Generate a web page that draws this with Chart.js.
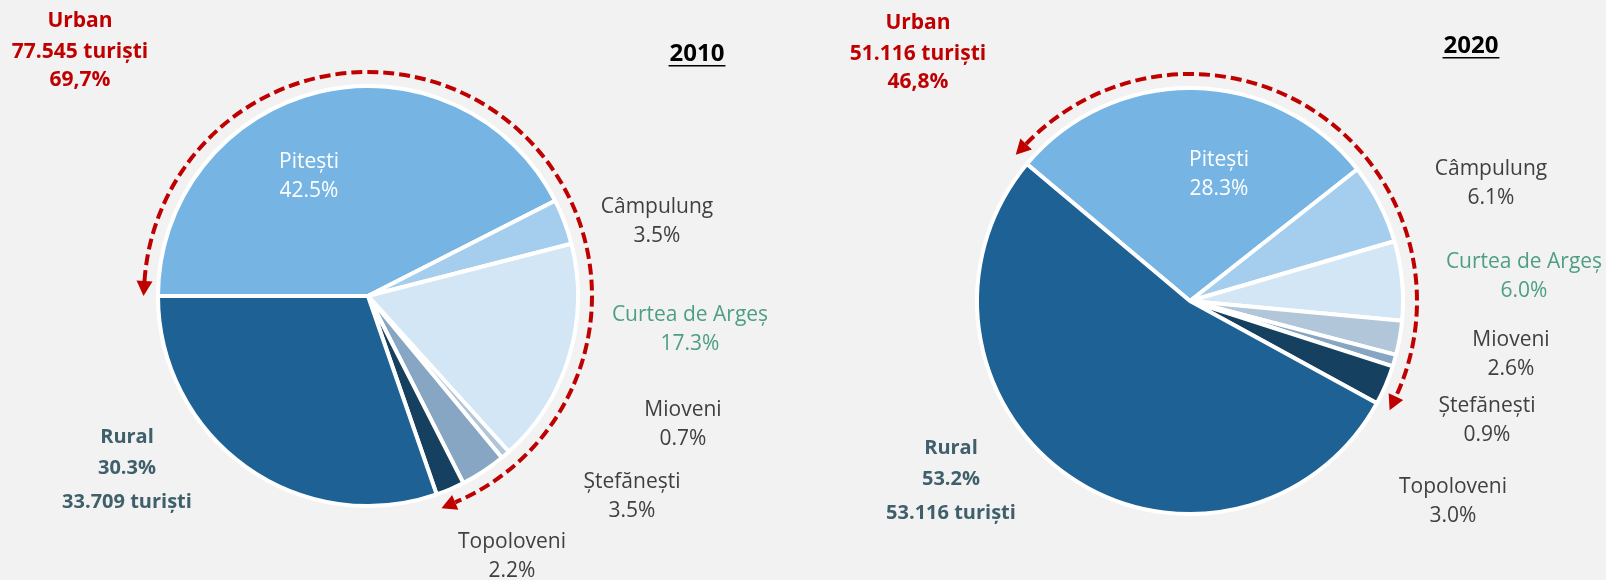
<!DOCTYPE html>
<html>
<head>
<meta charset="utf-8">
<script src="https://cdn.jsdelivr.net/npm/chart.js@4.4.0/dist/chart.umd.min.js"></script>
<style>
  body { margin: 0; background: #f2f2f2; }
  .pane { position: absolute; top: 0; width: 803px; height: 580px; }
</style>
</head>
<body>
<div class="pane" style="left:0"><canvas id="pie2010"></canvas></div>
<div class="pane" style="left:803px"><canvas id="pie2020"></canvas></div>
<script>
// tourist shares by locality, Argeș county
const categories = ['Pitești', 'Câmpulung', 'Curtea de Argeș', 'Mioveni', 'Ștefănești', 'Topoloveni', 'Rural'];
const share2010 = [42.5, 3.5, 17.3, 0.7, 3.5, 2.2, 30.3];
const share2020 = [28.3, 6.1, 6.0, 2.6, 0.9, 3.0, 53.2];
const years = ['2010', '2020'];
const urbanTourists = ['77.545', '51.116'];
const urbanShare = ['69,7%', '46,8%'];
const ruralTourists = ['33.709', '53.116'];

const sliceColors = ['#75b4e3', '#a4cdee', '#d2e6f5', '#b1c6d8', '#87a6c3', '#16405f', '#1e6194'];
const labelColors = ['#ffffff', '#404040', '#4e9f82', '#404040', '#404040', '#404040', '#3f5f6b'];
const RED = '#c00000';
const FONT = '"Open Sans", sans-serif';

// label anchors, offset from the pie centre
const labelOffsets2010 = [[-59, -134], [289, -89], [322, 19], [315, 114], [264, 186], [144, 246], [-241, 141]];
const labelOffsets2020 = [[29, -141], [301, -132], [334, -39], [321, 39], [297, 105], [263, 186], [-239, 147]];

const pieNotes = {
  id: 'pieNotes',
  afterDatasetsDraw(chart, args, o) {
    const ctx = chart.ctx;
    const arcs = chart.getDatasetMeta(0).data;
    const cx = arcs[0].x, cy = arcs[0].y;
    const values = chart.data.datasets[0].data;
    ctx.save();
    ctx.textAlign = 'center';
    ctx.textBaseline = 'middle';

    // slice labels
    categories.forEach((name, i) => {
      const [dx, dy] = o.offsets[i];
      const x = cx + dx, y = cy + dy;
      ctx.fillStyle = labelColors[i];
      if (name === 'Rural') {
        ctx.font = 'bold 20px ' + FONT;
        ctx.fillText(name, x, y);
        ctx.fillText(values[i].toFixed(1) + '%', x, y + 31);
        ctx.fillText(o.rural + ' turiști', x, y + 65);
      } else {
        ctx.font = '21px ' + FONT;
        ctx.fillText(name, x, y);
        ctx.fillText(values[i].toFixed(1) + '%', x, y + 29);
      }
    });

    // urban summary
    ctx.fillStyle = RED;
    ctx.font = 'bold 21px ' + FONT;
    const ux = cx + o.urbanAt[0], uy = cy + o.urbanAt[1];
    ctx.fillText('Urban', ux, uy);
    ctx.fillText(o.urban + ' turiști', ux, uy + 31);
    ctx.fillText(o.urbanPct, ux, uy + 59);

    // year heading, underlined
    ctx.fillStyle = '#000000';
    ctx.font = 'bold 24px ' + FONT;
    const tx = cx + o.titleAt[0], ty = cy + o.titleAt[1];
    ctx.fillText(o.year, tx, ty);
    const w = ctx.measureText(o.year).width;
    ctx.fillRect(tx - w / 2 - 1, ty + 11, w + 2, 1.5);

    // dashed bracket around the urban slices
    const first = arcs[0], last = arcs[5];
    const r = first.outerRadius + 14;
    const head = 15, half = 8;
    const a0 = first.startAngle, a1 = last.endAngle;
    const d = head / r;
    ctx.strokeStyle = RED;
    ctx.lineWidth = 4;
    ctx.setLineDash([11, 5]);
    ctx.beginPath();
    ctx.arc(cx, cy, r, a0 + d, a1 - d);
    ctx.stroke();
    ctx.setLineDash([]);
    ctx.fillStyle = RED;
    const arrow = (ang, sign) => {
      const bx = cx + r * Math.cos(ang), by = cy + r * Math.sin(ang);
      const tx2 = -Math.sin(ang) * sign, ty2 = Math.cos(ang) * sign;
      const nx = Math.cos(ang), ny = Math.sin(ang);
      ctx.beginPath();
      ctx.moveTo(bx + tx2 * head, by + ty2 * head);
      ctx.lineTo(bx + nx * half, by + ny * half);
      ctx.lineTo(bx - nx * half, by - ny * half);
      ctx.closePath();
      ctx.fill();
    };
    arrow(a0 + d, -1);
    arrow(a1 - d, 1);
    ctx.restore();
  }
};

function makePie(id, values, rotation, padding, notes) {
  return new Chart(document.getElementById(id), {
    type: 'pie',
    data: {
      labels: categories,
      datasets: [{
        data: values,
        backgroundColor: sliceColors,
        borderColor: '#ffffff',
        borderWidth: 4
      }]
    },
    options: {
      responsive: false,
      animation: false,
      rotation: rotation,
      layout: { padding: padding },
      plugins: {
        legend: { display: false },
        tooltip: { enabled: false },
        pieNotes: notes
      }
    },
    plugins: [pieNotes]
  });
}

for (const id of ['pie2010', 'pie2020']) {
  const c = document.getElementById(id);
  c.width = 803;
  c.height = 580;
}

makePie('pie2010', share2010, 270, { top: 84, bottom: 72, left: 100, right: 167 }, {
  offsets: labelOffsets2010,
  year: years[0],
  urban: urbanTourists[0],
  urbanPct: urbanShare[0],
  rural: ruralTourists[0],
  urbanAt: [-288, -275],
  titleAt: [329, -242]
});

makePie('pie2020', share2020, -50, { top: 86, bottom: 64, left: 150, right: 179 }, {
  offsets: labelOffsets2020,
  year: years[1],
  urban: urbanTourists[1],
  urbanPct: urbanShare[1],
  rural: ruralTourists[1],
  urbanAt: [-272, -278],
  titleAt: [281, -255]
});
</script>
</body>
</html>
